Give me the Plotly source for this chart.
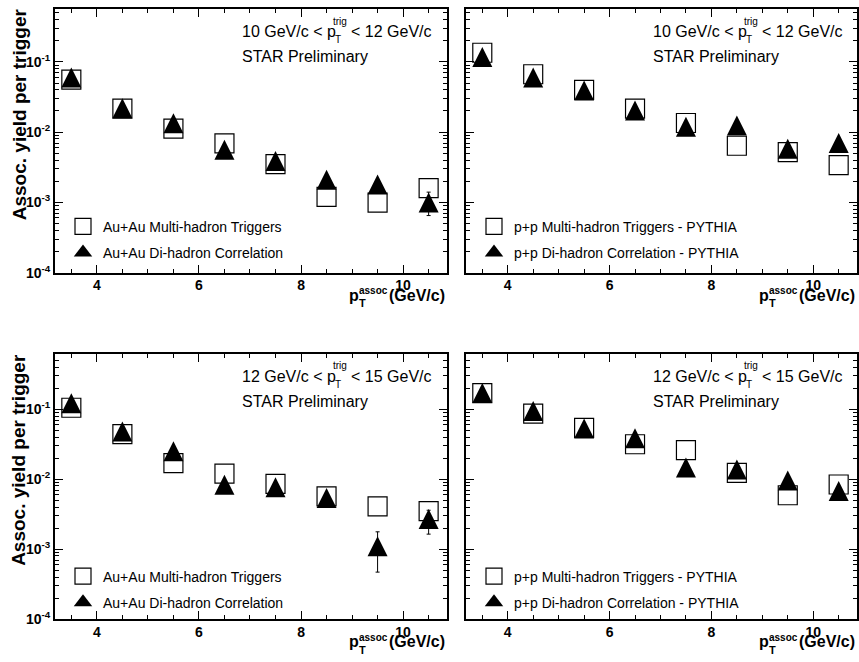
import plotly.graph_objects as go

W, H = 859, 662
FONT = "Liberation Sans, Arial, sans-serif"

# ---------------- data ----------------
pt_assoc = [3.5, 4.5, 5.5, 6.5, 7.5, 8.5, 9.5, 10.5]

auau_1012_multi = [0.056, 0.0216, 0.0112, 0.0069, 0.0035, 0.0012, 0.00099, 0.0016]
auau_1012_dihad = [0.060, 0.0218, 0.0134, 0.0056, 0.0039, 0.0021, 0.0018, 0.0010]
auau_1012_dihad_eplus = [0, 0, 0, 0, 0, 0, 0, 0.0004]
auau_1012_dihad_eminus = [0, 0, 0, 0, 0, 0, 0, 0.00035]

pp_1012_multi = [0.135, 0.0667, 0.040, 0.0216, 0.0135, 0.0064, 0.0052, 0.0034]
pp_1012_dihad = [0.117, 0.060, 0.039, 0.0203, 0.0119, 0.0124, 0.0058, 0.0070]

auau_1215_multi = [0.105, 0.044, 0.017, 0.012, 0.0086, 0.0057, 0.0041, 0.0035]
auau_1215_dihad = [0.122, 0.048, 0.025, 0.0083, 0.0077, 0.0054, 0.0011, 0.0027]
auau_1215_dihad_eplus = [0, 0, 0, 0, 0, 0, 0.00067, 0.0009]
auau_1215_dihad_eminus = [0, 0, 0, 0, 0, 0, 0.00063, 0.00106]

pp_1215_multi = [0.170, 0.0865, 0.054, 0.0316, 0.026, 0.0123, 0.0059, 0.0084]
pp_1215_dihad = [0.170, 0.094, 0.053, 0.0385, 0.0147, 0.0138, 0.0096, 0.0068]

zeros = [0] * 8

x_tickvals = [4, 6, 8, 10]
x_ticktext = ["4", "6", "8", "10"]
y_tickvals = [1e-4, 1e-3, 1e-2, 1e-1]
y_ticktext = ["10<sup>-4</sup>", "10<sup>-3</sup>", "10<sup>-2</sup>", "10<sup>-1</sup>"]

trig_labels = [("10 GeV/c < p", "< 12 GeV/c"), ("12 GeV/c < p", "< 15 GeV/c")]
legend_auau = ["Au+Au Multi-hadron Triggers", "Au+Au Di-hadron Correlation"]
legend_pp = ["p+p Multi-hadron Triggers - PYTHIA", "p+p Di-hadron Correlation - PYTHIA"]

# ---------------- layout geometry (pixels) ----------------
panels = [
    dict(l=55, r=447, t=9.3, b=276, ytop=-0.25, leg=204),
    dict(l=466, r=857, t=9.3, b=276, ytop=-0.25, leg=204),
    dict(l=55, r=447, t=358.3, b=626.7, ytop=-0.21, leg=209),
    dict(l=466, r=857, t=358.3, b=626.7, ytop=-0.21, leg=209),
]

def px(x):
    return x / W

def py(y):
    return 1 - y / H

minor_x = [3.5, 4.5, 5, 5.5, 6.5, 7, 7.5, 8.5, 9, 9.5, 10.5]
minor_y = [k * 10 ** e for e in range(-4, 0) for k in range(2, 10)]

fig = go.Figure()

panel_data = [
    (auau_1012_multi, auau_1012_dihad, auau_1012_dihad_eplus, auau_1012_dihad_eminus, legend_auau),
    (pp_1012_multi, pp_1012_dihad, zeros, zeros, legend_pp),
    (auau_1215_multi, auau_1215_dihad, auau_1215_dihad_eplus, auau_1215_dihad_eminus, legend_auau),
    (pp_1215_multi, pp_1215_dihad, zeros, zeros, legend_pp),
]

square_marker = dict(symbol="square-open", size=19, color="black", line=dict(width=1.2, color="black"))

annotations = []
layout = {}
for i, (p, d) in enumerate(zip(panels, panel_data)):
    n = "" if i == 0 else str(i + 1)
    xa, ya = "x" + n, "y" + n
    lg = "legend" + n
    multi, dihad, ep, em, labels = d
    fig.add_trace(go.Scatter(
        x=pt_assoc, y=multi, mode="markers", xaxis=xa, yaxis=ya,
        name=labels[0], legend=lg, legendgroup=f"m{i}", marker=square_marker,
    ))
    # triangle centred on the point (ROOT style): arrow shape shifted by half its height
    fig.add_trace(go.Scatter(
        x=pt_assoc, y=dihad, mode="markers", xaxis=xa, yaxis=ya,
        name=labels[1], showlegend=False, legendgroup=f"d{i}",
        error_y=dict(type="data", symmetric=False, array=ep, arrayminus=em,
                     color="black", thickness=1, width=2),
        marker=dict(symbol="arrow-down", angle=180, size=20, standoff=10,
                    color="black", line=dict(width=0)),
    ))
    # legend entry for the triangles
    fig.add_trace(go.Scatter(
        x=[None], y=[None], mode="markers", xaxis=xa, yaxis=ya,
        name=labels[1], legend=lg, legendgroup=f"d{i}",
        marker=dict(symbol="triangle-up", size=19, color="black", line=dict(width=0)),
    ))

    left_col = i in (0, 2)
    layout["xaxis" + n] = dict(
        domain=[px(p["l"]), px(p["r"])], anchor=ya, range=[3.18, 10.86],
        tickmode="array", tickvals=x_tickvals, ticktext=x_ticktext,
        ticks="inside", ticklen=8, tickwidth=1, tickcolor="black",
        minor=dict(ticks="inside", ticklen=4, tickwidth=1, tickcolor="black",
                   tickmode="array", tickvals=minor_x, showgrid=False),
        showline=True, linewidth=2, linecolor="black", mirror="allticks",
        showgrid=False, zeroline=False, ticklabelstandoff=-1,
        tickfont=dict(family=FONT, size=14, color="black", weight="bold"),
    )
    layout["yaxis" + n] = dict(
        domain=[py(p["b"]), py(p["t"])], anchor=xa, type="log", range=[-4, p["ytop"]],
        tickmode="array", tickvals=y_tickvals, ticktext=y_ticktext,
        ticks="inside", ticklen=8, tickwidth=1, tickcolor="black",
        minor=dict(ticks="inside", ticklen=4, tickwidth=1, tickcolor="black",
                   tickmode="array", tickvals=minor_y, showgrid=False),
        showline=True, linewidth=2, linecolor="black", mirror="allticks",
        showgrid=False, zeroline=False,
        tickfont=dict(family=FONT, size=14, color="black", weight="bold"),
        showticklabels=left_col,
    )
    layout[lg] = dict(
        x=px(p["l"] + 8), y=py(p["t"] + p["leg"]), xanchor="left", yanchor="top",
        bgcolor="rgba(0,0,0,0)", font=dict(family=FONT, size=14, color="black"),
        tracegroupgap=5, itemsizing="trace",
    )

    row = 0 if i < 2 else 1
    L, T, B, R = p["l"], p["t"], p["b"], p["r"]
    tl = trig_labels[row]
    cy = T + 22.5
    annotations += [
        dict(x=px(L + 185), y=py(cy), text=tl[0], xanchor="left", yanchor="middle",
             font=dict(family=FONT, size=16, color="black")),
        dict(x=px(L + 275.5), y=py(cy - 10.5), text="trig", xanchor="left", yanchor="middle",
             font=dict(family=FONT, size=10, color="black")),
        dict(x=px(L + 277.5), y=py(cy + 8), text="T", xanchor="left", yanchor="middle",
             font=dict(family=FONT, size=10, color="black")),
        dict(x=px(L + 294), y=py(cy), text=tl[1], xanchor="left", yanchor="middle",
             font=dict(family=FONT, size=16, color="black")),
        dict(x=px(L + 185), y=py(T + 48), text="STAR Preliminary", xanchor="left", yanchor="middle",
             font=dict(family=FONT, size=16, color="black")),
    ]
    annotations += [
        dict(x=px(R - 100), y=py(B + 23), text="<b>p</b>", xanchor="left", yanchor="middle",
             font=dict(family=FONT, size=16, color="black")),
        dict(x=px(R - 90), y=py(B + 18.5), text="<b>assoc</b>", xanchor="left", yanchor="middle",
             font=dict(family=FONT, size=10, color="black")),
        dict(x=px(R - 90.5), y=py(B + 31), text="<b>T</b>", xanchor="left", yanchor="middle",
             font=dict(family=FONT, size=11, color="black")),
        dict(x=px(R), y=py(B + 23), text="<b>(GeV/c)</b>", xanchor="right", yanchor="middle",
             font=dict(family=FONT, size=16, color="black")),
    ]
    if left_col:
        annotations.append(dict(
            x=px(19), y=py((T + B) / 2 - 27), text="<b>Assoc. yield per trigger</b>",
            textangle=-90, xanchor="center", yanchor="middle",
            font=dict(family=FONT, size=19, color="black")))

for a in annotations:
    a.update(xref="paper", yref="paper", showarrow=False)

fig.update_layout(
    width=W, height=H, margin=dict(l=0, r=0, t=0, b=0),
    paper_bgcolor="white", plot_bgcolor="white",
    annotations=annotations, showlegend=True,
    **layout,
)

fig.write_html(
    "out.html",
    config={"displayModeBar": False},
    post_script="document.body.style.margin='0';document.body.style.overflow='hidden';",
)
